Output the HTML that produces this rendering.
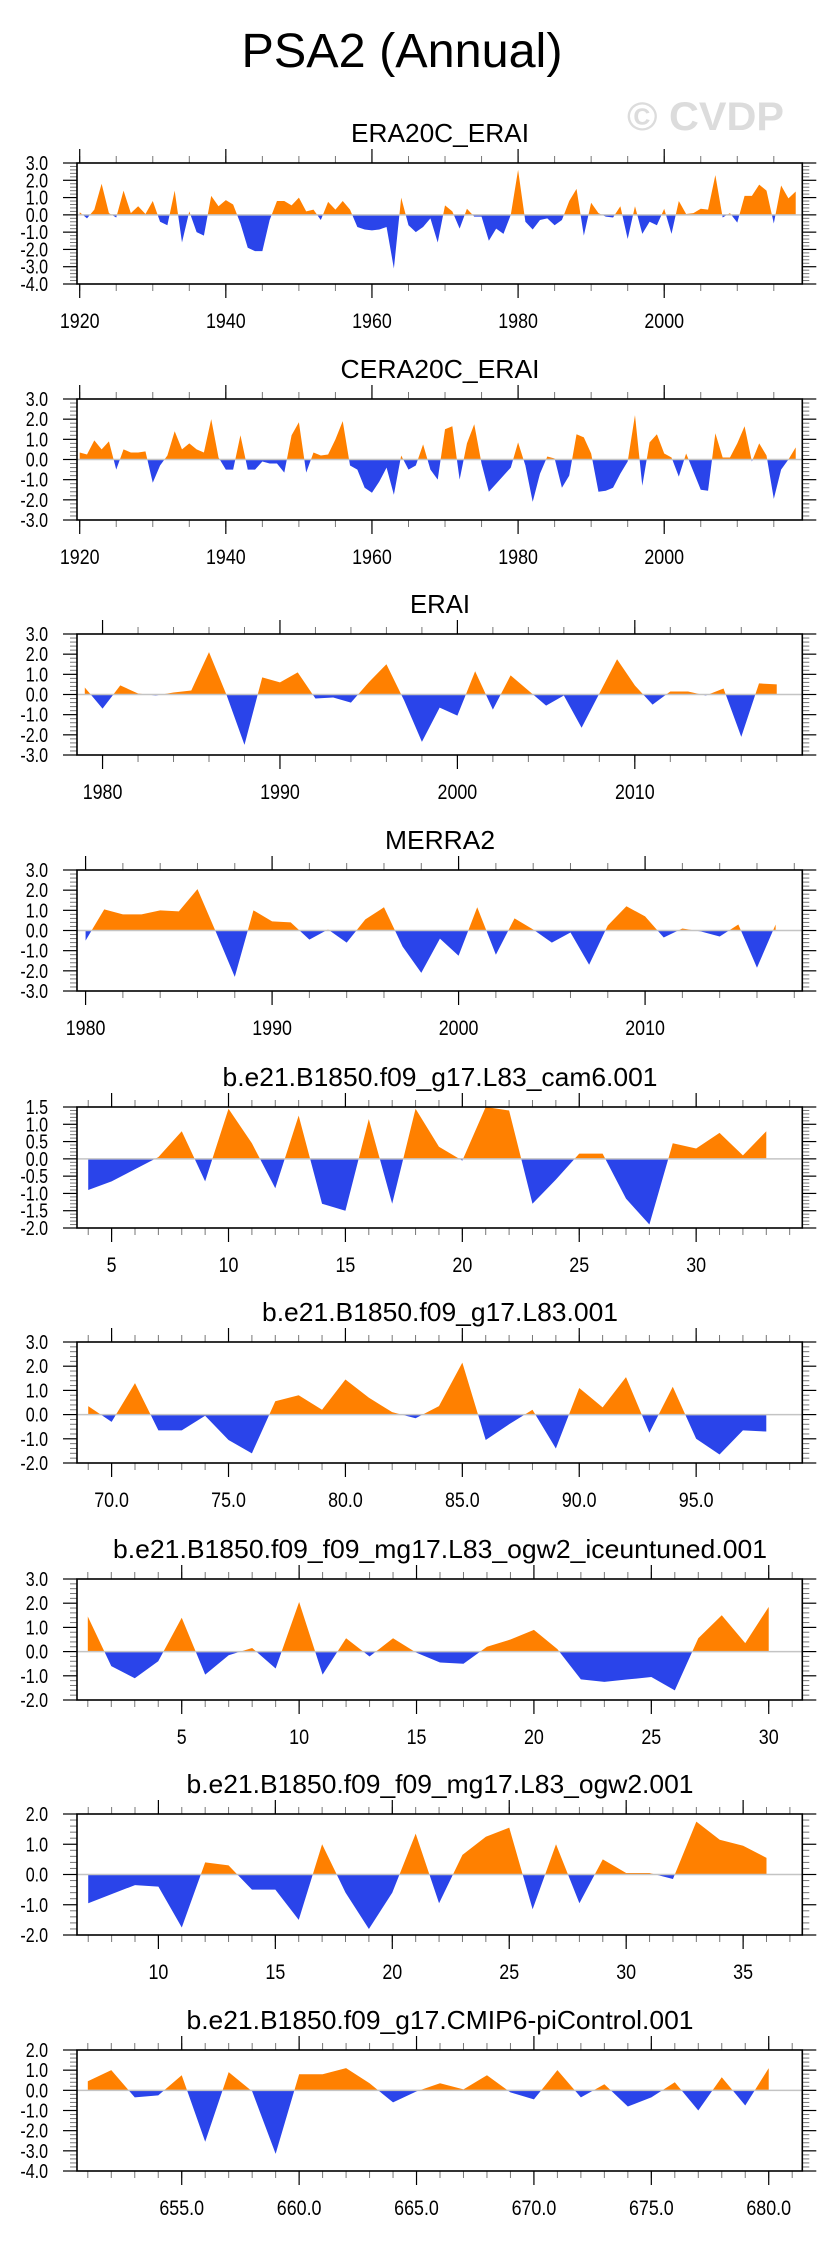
<!DOCTYPE html>
<html><head><meta charset="utf-8"><title>PSA2 (Annual)</title>
<style>
html,body{margin:0;padding:0;background:#fff;}
svg{display:block;font-family:"Liberation Sans",sans-serif;}
</style></head>
<body>
<svg id="fig" width="829" height="2245" viewBox="0 0 829 2245" xmlns="http://www.w3.org/2000/svg">
<text x="402" y="67" font-size="48" text-anchor="middle" textLength="321" lengthAdjust="spacingAndGlyphs">PSA2 (Annual)</text>
<text x="627" y="130" font-size="40" font-weight="bold" fill="#dcdcdc" textLength="157" lengthAdjust="spacingAndGlyphs">© CVDP</text>
</svg>
<script>
// ---- data ----
const era20cStart = 1920;
const era20cValues = [0.15,-0.2,0.3,1.8,0.1,-0.15,1.4,0.1,0.5,0.05,0.8,-0.4,-0.6,1.4,-1.6,0.2,-1.0,-1.2,1.1,0.5,
 0.85,0.6,-0.5,-1.9,-2.1,-2.1,-0.3,0.8,0.8,0.55,1.0,0.2,0.3,-0.3,0.75,0.3,0.8,0.3,-0.7,-0.85,
 -0.9,-0.85,-0.7,-3.1,1.0,-0.6,-1.0,-0.7,-0.2,-1.6,0.55,0.2,-0.8,0.35,-0.1,-0.1,-1.5,-0.8,-1.1,0.0,
 2.6,-0.4,-0.85,-0.3,-0.2,-0.6,-0.3,0.8,1.5,-1.2,0.7,0.1,-0.1,-0.15,0.5,-1.4,0.5,-1.1,-0.4,-0.6,
 0.35,-1.1,0.8,0.05,0.1,0.35,0.3,2.3,-0.15,0.1,-0.45,1.1,1.1,1.75,1.4,-0.5,1.7,0.95,1.35];
const cera20cStart = 1920;
const cera20cValues = [0.35,0.25,0.95,0.5,0.9,-0.5,0.5,0.35,0.35,0.4,-1.15,-0.3,0.2,1.4,0.5,0.8,0.5,0.35,2.0,0.1,
 -0.5,-0.5,1.2,-0.5,-0.5,-0.1,-0.2,-0.2,-0.65,1.2,1.85,-0.65,0.35,0.2,0.25,1.0,1.9,-0.3,-0.5,-1.4,
 -1.65,-1.1,-0.4,-1.75,0.2,-0.5,-0.3,0.75,-0.5,-1.0,1.5,1.65,-1.0,0.8,1.75,-0.2,-1.6,-1.2,-0.8,-0.4,
 0.85,-0.3,-2.1,-0.7,0.15,0.05,-1.4,-0.8,1.25,1.1,0.3,-1.6,-1.55,-1.4,-0.7,-0.1,2.2,-1.3,0.85,1.25,
 0.3,0.1,-0.85,0.3,-0.6,-1.5,-1.55,1.3,0.1,0.1,0.8,1.65,-0.1,0.8,0.2,-1.95,-0.5,0.0,0.6];
const eraiStart = 1979;
const eraiValues = [0.35,-0.7,0.45,0.05,-0.05,0.1,0.2,2.1,-0.05,-2.5,0.85,0.6,1.1,-0.2,-0.15,-0.4,0.6,1.5,-0.3,-2.35,
 -0.65,-1.05,1.15,-0.75,0.95,0.2,-0.55,-0.05,-1.65,0.05,1.75,0.45,-0.5,0.15,0.15,-0.05,0.3,-2.1,0.55,0.5];
const merra2Start = 1980;
const merra2Values = [-0.5,1.05,0.8,0.8,1.0,0.95,2.05,-0.1,-2.3,1.0,0.45,0.4,-0.45,0.05,-0.6,0.55,1.15,-0.8,-2.1,-0.4,
 -1.25,1.15,-1.2,0.6,0.05,-0.6,-0.1,-1.7,0.25,1.2,0.7,-0.35,0.1,-0.05,-0.3,0.3,-1.85,0.3];
const cam6Start = 4;
const cam6Values = [-0.9,-0.65,-0.3,0.05,0.8,-0.65,1.45,0.45,-0.85,1.25,-1.3,-1.5,1.15,-1.3,1.45,0.35,-0.05,1.5,1.4,-1.3,
 -0.6,0.15,0.15,-1.15,-1.9,0.45,0.3,0.75,0.1,0.8];
const l83Start = 69;
const l83Values = [0.35,-0.3,1.3,-0.65,-0.65,-0.05,-1.05,-1.6,0.55,0.8,0.2,1.45,0.7,0.1,-0.15,0.35,2.15,-1.05,-0.4,0.2,
 -1.4,1.1,0.3,1.55,-0.75,1.15,-1.0,-1.65,-0.65,-0.7];
const iceStart = 1;
const iceValues = [1.45,-0.6,-1.1,-0.4,1.4,-0.95,-0.15,0.15,-0.7,2.05,-0.95,0.55,-0.2,0.55,-0.05,-0.45,-0.5,0.2,0.5,0.9,
 0.1,-1.15,-1.25,-1.15,-1.05,-1.6,0.55,1.5,0.35,1.85];
const ogw2Start = 7;
const ogw2Values = [-0.95,-0.65,-0.35,-0.4,-1.75,0.4,0.3,-0.5,-0.5,-1.5,1.0,-0.6,-1.8,-0.6,1.35,-0.95,0.65,1.25,1.55,-1.15,
 1.0,-0.95,0.5,0.05,0.05,-0.15,1.75,1.15,0.95,0.55];
const piStart = 651;
const piValues = [0.45,1.0,-0.35,-0.25,0.75,-2.55,0.9,-0.05,-3.15,0.8,0.8,1.1,0.35,-0.6,-0.05,0.35,0.05,0.75,-0.1,-0.45,
 1.0,-0.35,0.3,-0.8,-0.35,0.4,-1.0,0.65,-0.75,1.1];

// tick labels
const yTicks3to4 = ["3.0","2.0","1.0","0.0","-1.0","-2.0","-3.0","-4.0"];
const yTicks3to3 = ["3.0","2.0","1.0","0.0","-1.0","-2.0","-3.0"];
const yTicks15to2 = ["1.5","1.0","0.5","0.0","-0.5","-1.0","-1.5","-2.0"];
const yTicks3to2 = ["3.0","2.0","1.0","0.0","-1.0","-2.0"];
const yTicks2to2 = ["2.0","1.0","0.0","-1.0","-2.0"];
const yTicks2to4 = ["2.0","1.0","0.0","-1.0","-2.0","-3.0","-4.0"];
const xTicksCentury = ["1920","1940","1960","1980","2000"];
const xTicksErai = ["1980","1990","2000","2010"];
const xTicksMerra = ["1980","1990","2000","2010"];
const xTicksCam6 = ["5","10","15","20","25","30"];
const xTicksL83 = ["70.0","75.0","80.0","85.0","90.0","95.0"];
const xTicksIce = ["5","10","15","20","25","30"];
const xTicksOgw2 = ["10","15","20","25","30","35"];
const xTicksPi = ["655.0","660.0","665.0","670.0","675.0","680.0"];

// ---- layout ----
const NS = "http://www.w3.org/2000/svg";
const svg = document.getElementById("fig");
const L = 77, R = 802.3, H = 121;
const ORANGE = "#ff8000", BLUE = "#2a44ea";
let clipId = 0;

function mk(tag, attrs, parent) {
  const e = document.createElementNS(NS, tag);
  for (const k in attrs) e.setAttribute(k, attrs[k]);
  (parent || svg).appendChild(e);
  return e;
}
function narrow(t, f) {
  const w = t.getComputedTextLength();
  if (w > 0) { t.setAttribute("textLength", (w * f).toFixed(1)); t.setAttribute("lengthAdjust", "spacingAndGlyphs"); }
}

function drawPanel(p) {
  const g = mk("g", {});
  
  
  const top = p.top, bot = top + H;
  const xs = v => L + (v - p.xMin) / (p.xMax - p.xMin) * (R - L);
  const ys = v => top + (p.yMax - v) / (p.yMax - p.yMin) * H;

  const t = mk("text", {x: 440, y: top - 21, "font-size": 26, "text-anchor": "middle",
    textLength: p.titleW, lengthAdjust: "spacingAndGlyphs"}, g);
  t.textContent = p.title;
  
  

  const y0 = ys(0);
  let d = "M" + xs(p.start) + "," + y0;
  p.values.forEach((v, i) => { d += " L" + xs(p.start + i) + "," + ys(v); });
  d += " L" + xs(p.start + p.values.length - 1) + "," + y0 + " Z";
  const idA = "ca" + (clipId++), idB = "cb" + (clipId++);
  const cpA = mk("clipPath", {id: idA}, g); mk("rect", {x: L, y: top - 5, width: R - L, height: y0 - top + 5}, cpA);
  const cpB = mk("clipPath", {id: idB}, g); mk("rect", {x: L, y: y0, width: R - L, height: bot - y0 + 5}, cpB);
  const pos = mk("path", {d: d, fill: ORANGE, "clip-path": "url(#" + idA + ")"}, g);
  
  
  const neg = mk("path", {d: d, fill: BLUE, "clip-path": "url(#" + idB + ")"}, g);
  
  
  const zl = mk("line", {x1: L, x2: R, y1: y0, y2: y0, stroke: "#c4c4c4", "stroke-width": 1.5}, g);
  
  

  const ystep = (p.yMax - p.yMin) / (p.yLabels.length - 1);
  p.yLabels.forEach((lab, i) => {
    const v = p.yMax - i * ystep, y = ys(v);
    mk("line", {x1: L - 14, x2: L, y1: y, y2: y, stroke: "#000", "stroke-width": 1.2}, g);
    mk("line", {x1: R, x2: R + 14, y1: y, y2: y, stroke: "#000", "stroke-width": 1.2}, g);
    const tx = mk("text", {x: 48, y: y + 7, "font-size": 20, "text-anchor": "end"}, g);
    tx.textContent = lab;
    narrow(tx, 0.8);
    
    
    if (i < p.yLabels.length - 1) {
      for (let k = 1; k < 5; k++) {
        const ym = ys(v - k * ystep / 5);
        mk("line", {x1: L - 7, x2: L, y1: ym, y2: ym, stroke: "#777", "stroke-width": 1}, g);
        mk("line", {x1: R, x2: R + 7, y1: ym, y2: ym, stroke: "#777", "stroke-width": 1}, g);
      }
    }
  });
  for (let v = Math.ceil(p.xMin / p.minor) * p.minor; v <= p.xMax; v += p.minor) {
    const x = xs(v);
    mk("line", {x1: x, x2: x, y1: top - 7, y2: top, stroke: "#777", "stroke-width": 1}, g);
    mk("line", {x1: x, x2: x, y1: bot, y2: bot + 7, stroke: "#777", "stroke-width": 1}, g);
  }
  p.xLabels.forEach(lab => {
    const x = xs(parseFloat(lab));
    mk("line", {x1: x, x2: x, y1: top - 14, y2: top, stroke: "#000", "stroke-width": 1.2}, g);
    mk("line", {x1: x, x2: x, y1: bot, y2: bot + 14, stroke: "#000", "stroke-width": 1.2}, g);
    const tx = mk("text", {x: x, y: bot + 44, "font-size": 21, "text-anchor": "middle"}, g);
    tx.textContent = lab;
    narrow(tx, 0.85);
    
    
  });
  const fr = mk("rect", {x: L, y: top, width: R - L, height: H, fill: "none", stroke: "#000", "stroke-width": 1.6}, g);
  
  
}

const panels = [
  {name:"era20c-erai", title:"ERA20C_ERAI", titleW:178, top:163, yMax:3, yMin:-4, yLabels:yTicks3to4, xMin:1919.63, xMax:2018.9, minor:5, xLabels:xTicksCentury, start:era20cStart, values:era20cValues},
  {name:"cera20c-erai", title:"CERA20C_ERAI", titleW:199, top:399, yMax:3, yMin:-3, yLabels:yTicks3to3, xMin:1919.63, xMax:2018.9, minor:5, xLabels:xTicksCentury, start:cera20cStart, values:cera20cValues},
  {name:"erai", title:"ERAI", titleW:60, top:634, yMax:3, yMin:-3, yLabels:yTicks3to3, xMin:1978.56, xMax:2019.44, minor:2, xLabels:xTicksErai, start:eraiStart, values:eraiValues},
  {name:"merra2", title:"MERRA2", titleW:110, top:870, yMax:3, yMin:-3, yLabels:yTicks3to3, xMin:1979.54, xMax:2018.43, minor:2, xLabels:xTicksMerra, start:merra2Start, values:merra2Values},
  {name:"cam6", title:"b.e21.B1850.f09_g17.L83_cam6.001", titleW:435, top:1107, yMax:1.5, yMin:-2, yLabels:yTicks15to2, xMin:3.52, xMax:34.54, minor:1, xLabels:xTicksCam6, start:cam6Start, values:cam6Values},
  {name:"l83", title:"b.e21.B1850.f09_g17.L83.001", titleW:356, top:1342, yMax:3, yMin:-2, yLabels:yTicks3to2, xMin:68.52, xMax:99.54, minor:1, xLabels:xTicksL83, start:l83Start, values:l83Values},
  {name:"iceuntuned", title:"b.e21.B1850.f09_f09_mg17.L83_ogw2_iceuntuned.001", titleW:654, top:1579, yMax:3, yMin:-2, yLabels:yTicks3to2, xMin:0.54, xMax:31.43, minor:1, xLabels:xTicksIce, start:iceStart, values:iceValues},
  {name:"ogw2", title:"b.e21.B1850.f09_f09_mg17.L83_ogw2.001", titleW:507, top:1814, yMax:2, yMin:-2, yLabels:yTicks2to2, xMin:6.52, xMax:37.53, minor:1, xLabels:xTicksOgw2, start:ogw2Start, values:ogw2Values},
  {name:"picontrol", title:"b.e21.B1850.f09_g17.CMIP6-piControl.001", titleW:507, top:2050, yMax:2, yMin:-4, yLabels:yTicks2to4, xMin:650.54, xMax:681.43, minor:1, xLabels:xTicksPi, start:piStart, values:piValues}
];
panels.forEach(drawPanel);
</script>
</body></html>
